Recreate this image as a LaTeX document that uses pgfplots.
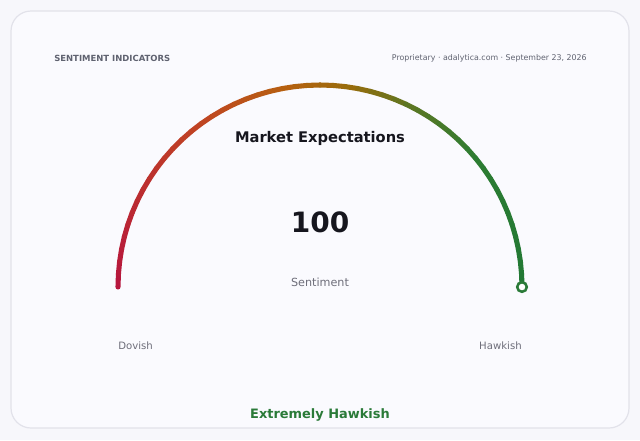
\documentclass[border=0pt]{standalone}
\usepackage{fontspec}
\setmainfont{DejaVu Sans}
\usepackage{pgfplots}
\pgfplotsset{compat=1.18}
\usepackage{pgfplotstable}

\definecolor{pagebg}{HTML}{F7F7FB}
\definecolor{cardbg}{HTML}{FAFAFE}
\definecolor{cardline}{HTML}{E2E2EA}
\definecolor{mutedtxt}{HTML}{5F6270}
\definecolor{softtxt}{HTML}{6E6E7A}
\definecolor{darktxt}{HTML}{16161E}
\definecolor{hawkgreen}{HTML}{2A7A38}

\pgfplotsset{
  colormap={gauge}{
    rgb255(0)=(182,20,62)
    rgb255(30)=(192,68,35)
    rgb255(45)=(182,96,16)
    rgb255(55)=(152,108,12)
    rgb255(65)=(92,118,35)
    rgb255(78)=(45,124,50)
    rgb255(100)=(34,120,52)
  }
}

% gauge track, positions on the 0..100 scale
\pgfplotstableread{
v
0
2
4
6
8
10
12
14
16
18
20
22
24
26
28
30
32
34
36
38
40
42
44
46
48
50
52
54
56
58
60
62
64
66
68
70
72
74
76
78
80
82
84
86
88
90
92
94
96
98
100
}\track

% current reading
\pgfplotstableread{
v
100
}\reading

\begin{document}
\begin{tikzpicture}
\begin{axis}[
    scale only axis,
    width=480pt, height=330pt,
    xmin=0, xmax=640, ymin=0, ymax=440,
    y dir=reverse,
    hide axis,
    clip=false,
    colormap name=gauge,
    point meta min=0, point meta max=100,
    ]
\fill[pagebg] (axis cs:0,0) rectangle (axis cs:640,440);
\draw[cardline, fill=cardbg, line width=0.9pt, rounded corners=15pt]
    (axis cs:11,11) rectangle (axis cs:629,428);

\addplot[mesh, line width=3.8pt, line cap=round, point meta=explicit]
    table[x index=0, y index=0,
          x expr={320+202*cos(180-1.8*\thisrow{v})},
          y expr={287-202*sin(180-1.8*\thisrow{v})},
          meta index=0] {\track};

\addplot[only marks, mark=*, mark size=3.6pt,
    mark options={draw=hawkgreen, fill=white, line width=1.9pt}]
    table[x index=0, y index=0,
          x expr={320+202*cos(180-1.8*\thisrow{v})},
          y expr={287-202*sin(180-1.8*\thisrow{v})}] {\reading};

\node[anchor=west, inner sep=0pt, text=mutedtxt, font=\fontsize{6.35pt}{8pt}\selectfont\bfseries]
    at (axis cs:54,58) {SENTIMENT INDICATORS};
\node[anchor=east, inner sep=0pt, text=mutedtxt, font=\fontsize{5.9pt}{7pt}\selectfont]
    at (axis cs:587,58) {Proprietary · adalytica.com · September 23, 2026};
\node[text=darktxt, font=\fontsize{11pt}{13pt}\selectfont\bfseries]
    at (axis cs:320,138.5) {Market Expectations};
\node[text=darktxt, font=\fontsize{21pt}{24pt}\selectfont\bfseries]
    at (axis cs:320,222) {100};
\node[text=softtxt, font=\fontsize{8.4pt}{10pt}\selectfont]
    at (axis cs:320,282) {Sentiment};
\node[anchor=west, inner sep=0pt, text=softtxt, font=\fontsize{7.6pt}{9pt}\selectfont]
    at (axis cs:118,346) {Dovish};
\node[anchor=east, inner sep=0pt, text=softtxt, font=\fontsize{7.6pt}{9pt}\selectfont]
    at (axis cs:522,346) {Hawkish};
\node[text=hawkgreen, font=\fontsize{9.7pt}{11pt}\selectfont\bfseries]
    at (axis cs:320,415) {Extremely Hawkish};
\end{axis}
\end{tikzpicture}
\end{document}
